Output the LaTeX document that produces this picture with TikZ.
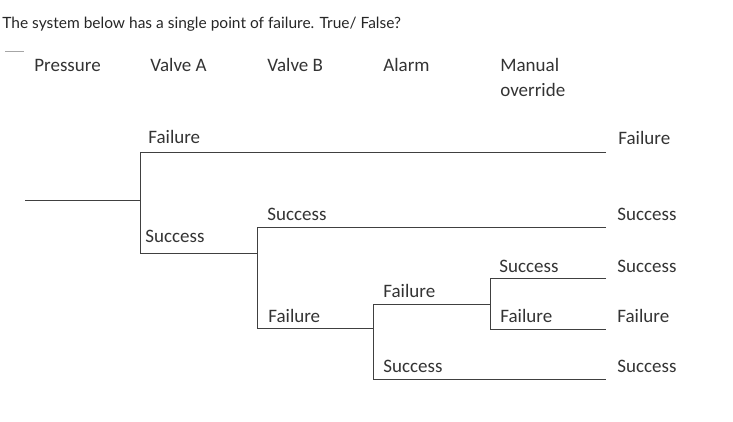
\documentclass[tikz,border=0pt]{standalone}
\usepackage{fontspec}
\setmainfont{Carlito}
\newfontfamily\titlefont{Lato}
\tikzset{every picture/.style={line width=0.75pt}}
\tikzset{lbl/.style={anchor=base west, inner sep=0pt, font=\fontsize{19}{22}\selectfont, text=black!80},
  tree/.style={draw=black!75, line width=1pt}}
\begin{document}
\begin{tikzpicture}[x=1pt,y=-1pt]
	\useasboundingbox (0,0) rectangle (733,421);
	\node[anchor=base west, inner sep=0pt, font=\titlefont\fontsize{15.5}{18}\selectfont, text=black!85] (title) at (2,28) {The system below has a single point of failure. True/ False?};
	\draw[black!35, line width=0.6pt] (5,51) -- (24,51);

	% column headings
	\node[lbl] (hpres) at (34,71) {Pressure};
	\node[lbl] (hva) at (150,71) {Valve A};
	\node[lbl] (hvb) at (267,71) {Valve B};
	\node[lbl] (hal) at (383,71) {Alarm};
	\node[lbl] (hman) at (500,71) {Manual};
	\node[lbl] (hover) at (500,96) {override};

	% tree
	\coordinate (p0) at (25,200);
	\coordinate (a0) at (140,200);
	\coordinate (aF) at (140,152);
	\coordinate (aS) at (140,253);
	\coordinate (b0) at (257,253);
	\coordinate (bS) at (257,227);
	\coordinate (bF) at (257,328);
	\coordinate (c0) at (373,328);
	\coordinate (cF) at (373,304);
	\coordinate (cS) at (373,379);
	\coordinate (d0) at (490,304);
	\coordinate (dS) at (490,278);
	\coordinate (dF) at (490,329);
	\coordinate (eA) at (606,152);
	\coordinate (eB) at (606,227);
	\coordinate (eC) at (606,278);
	\coordinate (eD) at (606,329);
	\coordinate (eE) at (606,379);

	\draw[tree] (p0) -- (a0);
	\draw[tree] (eA) -- (aF) -- (aS) -- (b0);
	\draw[tree] (eB) -- (bS) -- (bF) -- (c0);
	\draw[tree] (d0) -- (cF) -- (cS) -- (eE);
	\draw[tree] (eC) -- (dS) -- (dF) -- (eD);

	% branch labels
	\node[lbl] (laF) at (148,143) {Failure};
	\node[lbl] (laS) at (145,242) {Success};
	\node[lbl] (lbS) at (267,220) {Success};
	\node[lbl] (lbF) at (268,322) {Failure};
	\node[lbl] (lcF) at (383,297) {Failure};
	\node[lbl] (lcS) at (383,372) {Success};
	\node[lbl] (ldS) at (499,272) {Success};
	\node[lbl] (ldF) at (500,322) {Failure};

	% outcomes
	\node[lbl] (oA) at (618,144) {Failure};
	\node[lbl] (oB) at (617,220) {Success};
	\node[lbl] (oC) at (617,272) {Success};
	\node[lbl] (oD) at (617,322) {Failure};
	\node[lbl] (oE) at (617,372) {Success};
\end{tikzpicture}
\end{document}
